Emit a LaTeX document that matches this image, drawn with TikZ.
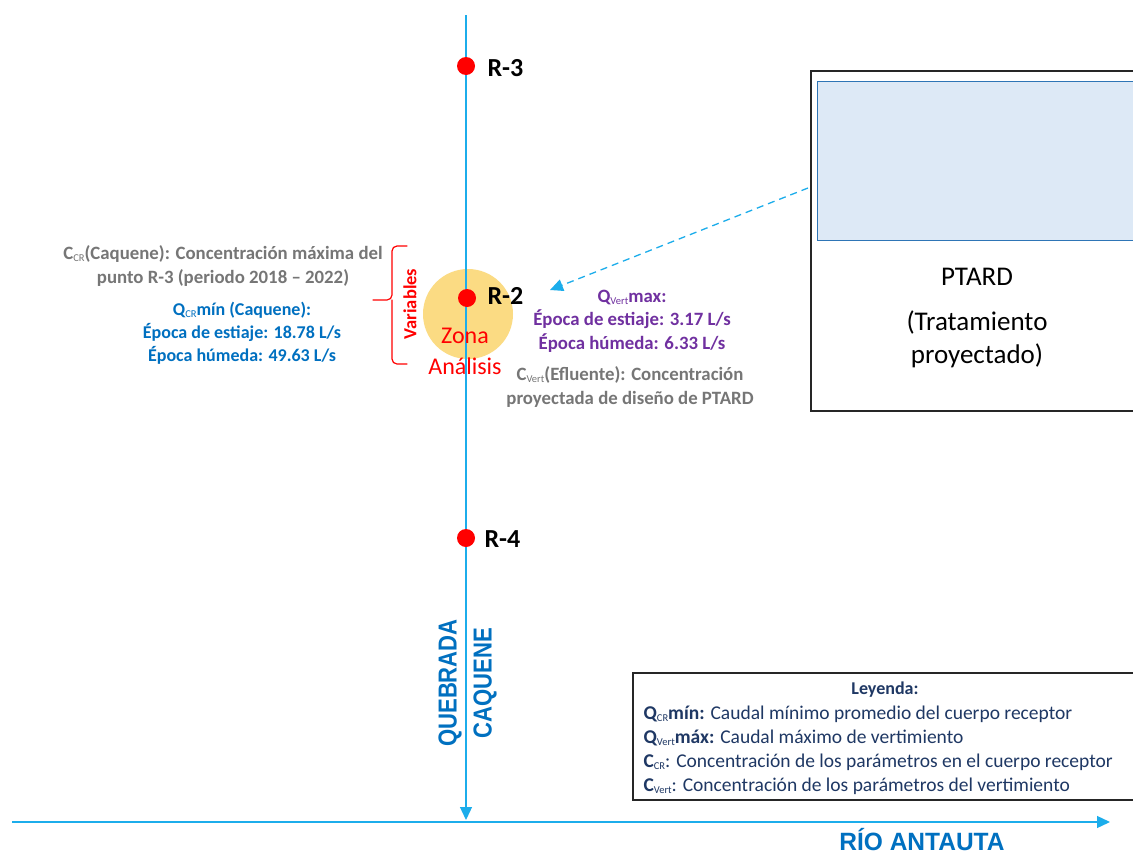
\documentclass[tikz,border=0pt]{standalone}
\usepackage{fontspec}
\setmainfont{Carlito}
\newfontfamily\narrowf[FakeStretch=0.85]{Liberation Sans}
\newfontfamily\namef[FakeStretch=0.98]{Liberation Sans}
\usetikzlibrary{arrows.meta}
\definecolor{river}{HTML}{1CADEB}
\definecolor{txtblue}{HTML}{0070C0}
\definecolor{txtpurple}{HTML}{7030A0}
\definecolor{txtgray}{HTML}{767676}
\definecolor{navy}{HTML}{1F3864}
\definecolor{zone}{HTML}{FBD56E}
\definecolor{boxfill}{HTML}{DDE9F6}
\definecolor{boxline}{HTML}{2E75B6}
% small lowered index used after Q and C
\newcommand\sbs[1]{\raisebox{-0.25ex}{\fontsize{10.5}{10.5}\selectfont\mdseries #1}}
\tikzset{
  riverline/.style={draw=river, line width=1.3pt, -{Triangle[length=13pt,width=12pt]}},
  station/.style={circle, fill=red, inner sep=0pt, minimum size=18pt},
  stlabel/.style={anchor=west, font=\fontsize{26}{26}\selectfont\bfseries, text=black},
  gtext/.style={align=center, text=txtgray, font=\fontsize{18.8}{24}\selectfont\bfseries},
  btext/.style={align=center, text=txtblue, font=\fontsize{18}{23}\selectfont\bfseries},
  ptext/.style={align=center, text=txtpurple, font=\fontsize{18.8}{23.5}\selectfont\bfseries},
  legline/.style={anchor=west, text=navy, font=\fontsize{19.5}{19.5}\selectfont},
  rivername/.style={text=txtblue, inner sep=0pt},
}
\begin{document}
\begin{tikzpicture}[x=1pt,y=-1pt]
\useasboundingbox (0,0) rectangle (1133,857);
\fill[white] (0,0) rectangle (1133,857);

% analysis zone
\fill[zone, opacity=0.85] (468,314) circle (45);

% rivers
\coordinate (qtop) at (466,15);
\coordinate (qend) at (466,820);
\coordinate (rstart) at (12,822);
\coordinate (rend) at (1110,822);
\draw[riverline] (qtop) -- (qend);
\draw[riverline] (rstart) -- (rend);

% sampling stations
\node[station] (r3) at (466,66) {};
\node[station] (r2) at (467,298) {};
\node[station] (r4) at (466,538) {};
\node[stlabel] (r3l) at (484,68) {R-3};
\node[stlabel] (r2l) at (484,296) {R-2};
\node[stlabel] (r4l) at (481,539) {R-4};

\node[text=red, align=center, font=\fontsize{24}{31}\selectfont] (zona) at (465,351) {Zona\\Análisis};

% variables brace
\draw[red, line width=1.2pt, line cap=round, rounded corners=5pt]
  (407,246) -- (392,246) -- (392,300) -- (373,300);
\draw[red, line width=1.2pt, line cap=round, rounded corners=5pt]
  (407,364) -- (392,364) -- (392,300);
\node[rotate=90, text=red, font=\fontsize{18.5}{18.5}\selectfont\bfseries] (vars) at (410,304) {Variables};

% receiving body data
\node[gtext] (ccr) at (223,266) {C\sbs{CR}(Caquene): Concentración máxima del\\punto R-3 (periodo 2018 -- 2022)};
\node[btext] (qcr) at (242,333) {Q\sbs{CR}mín (Caquene):\\Época de estiaje: 18.78 L/s\\Época húmeda: 49.63 L/s};

% discharge data
\node[ptext] (qv) at (632,321) {Q\sbs{Vert}max:\\Época de estiaje: 3.17 L/s\\Época húmeda: 6.33 L/s};
\node[gtext] (cv) at (630,387) {C\sbs{Vert}(Efluente): Concentración\\proyectada de diseño de PTARD};

% treatment plant
\draw[black!85, line width=1.2pt] (1140,71) -- (811,71) -- (811,411) -- (1140,411);
\draw[boxline, fill=boxfill, line width=1pt] (1140,81) -- (817,81) -- (817,240) -- (1140,240);
\coordinate (pout) at (808,188);
\node[align=center, font=\fontsize{27}{33}\selectfont, text=black] (ptard) at (977,318) {PTARD\\[12pt](Tratamiento\\proyectado)};
\draw[river, line width=1.3pt, dashed, dash pattern=on 7pt off 5pt, -{Triangle[length=13pt,width=12pt]}] (pout) -- (550,290);

% river names
\node[rivername, font={\narrowf\fontsize{26}{26}\selectfont\bfseries}, rotate=90] (queb) at (450,683) {QUEBRADA};
\node[rivername, font={\narrowf\fontsize{26}{26}\selectfont\bfseries}, rotate=90] (caq) at (485,683) {CAQUENE};
\node[rivername, font={\namef\fontsize{25}{25}\selectfont\bfseries}] (anta) at (922,840) {RÍO ANTAUTA};

% legend
\draw[black!85, line width=1.2pt, fill=white] (1140,673) -- (633,673) -- (633,800) -- (1140,800);
\node[text=navy, font=\fontsize{18}{18}\selectfont\bfseries] (leg) at (885,690) {Leyenda:};
\node[legline] (l1) at (640,714) {\textbf{Q\sbs{CR}mín:} Caudal mínimo promedio del cuerpo receptor};
\node[legline] (l2) at (640,738) {\textbf{Q\sbs{Vert}máx:} Caudal máximo de vertimiento};
\node[legline] (l3) at (640,762) {\textbf{C\sbs{CR}}: Concentración de los parámetros en el cuerpo receptor};
\node[legline] (l4) at (640,786) {\textbf{C\sbs{Vert}}: Concentración de los parámetros del vertimiento};
\end{tikzpicture}
\end{document}
